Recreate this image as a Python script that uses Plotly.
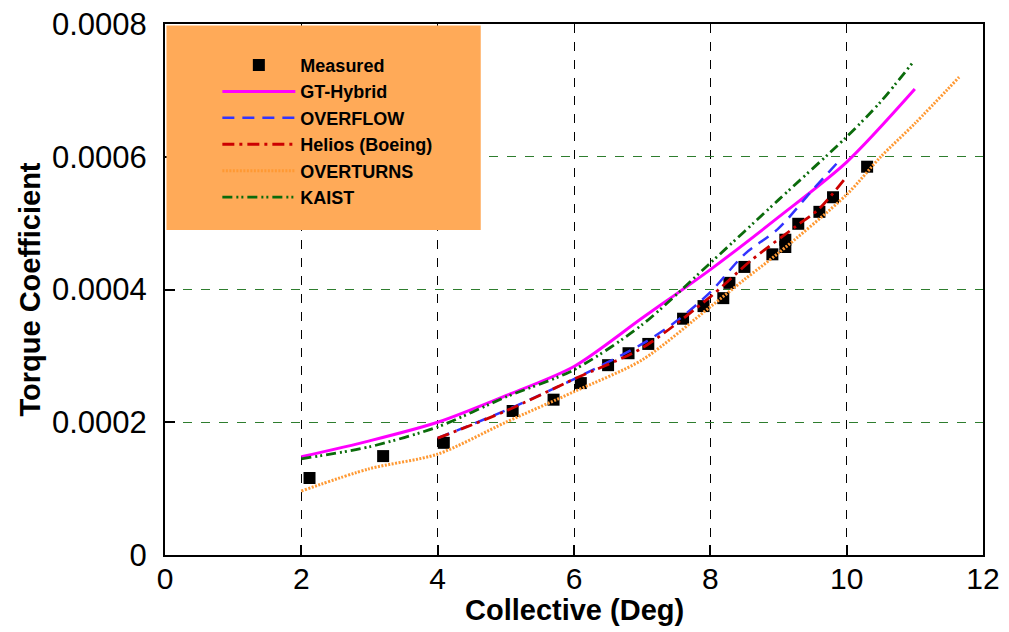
import plotly.graph_objects as go

# ---------------- data ----------------
meas_x = [2.12, 3.2, 4.09, 5.1, 5.7, 6.1, 6.5, 6.8, 7.09, 7.6, 7.9, 8.19, 8.28, 8.5,
          8.91, 9.1, 9.1, 9.29, 9.6, 9.8, 10.3]
meas_y = [0.000116, 0.000149, 0.000169, 0.000217, 0.000234, 0.000259, 0.000286,
          0.000304, 0.000318, 0.000356, 0.000375, 0.000387, 0.000410, 0.000434,
          0.000453, 0.000464, 0.000475, 0.000499, 0.000517, 0.000539, 0.000585]

gt_x = [2, 3, 4, 5, 6, 7, 8, 9, 10, 11]
gt_y = [0.000148, 0.000172, 0.000200, 0.000240, 0.000284, 0.000357, 0.000430,
        0.000509, 0.000592, 0.000702]

ovf_x = [4.0, 5, 6, 7, 7.5, 8, 8.5, 9, 9.5, 9.9]
ovf_y = [0.000176, 0.000218, 0.000265, 0.000318, 0.000352, 0.000396, 0.000453,
         0.000492, 0.000550, 0.000595]

hel_x = [4.0, 5, 6, 7, 8, 8.6, 9.24, 9.6, 10]
hel_y = [0.000176, 0.000217, 0.000265, 0.000312, 0.000389, 0.000444, 0.000494,
         0.000522, 0.000570]

ovt_x = [2, 3, 4, 5, 6, 7, 8, 8.5, 9, 10, 10.5, 11, 11.65]
ovt_y = [0.0000964, 0.000130, 0.000152, 0.000200, 0.000246, 0.000294, 0.000374,
         0.000415, 0.000455, 0.000543, 0.000600, 0.000650, 0.000720]

kai_x = [2, 3, 4, 5, 6, 7, 8, 9, 10, 10.5, 10.97]
kai_y = [0.000145, 0.000163, 0.000193, 0.000238, 0.000279, 0.000347, 0.000440,
         0.000535, 0.000630, 0.000683, 0.000742]

x_ticks = [0, 2, 4, 6, 8, 10, 12]
y_ticks = [0, 0.0002, 0.0004, 0.0006, 0.0008]
y_tick_text = ["0", "0.0002", "0.0004", "0.0006", "0.0008"]

FONT = "Liberation Sans, Arial, sans-serif"

fig = go.Figure()

fig.add_trace(go.Scatter(x=meas_x, y=meas_y, mode="markers", name="Measured",
                         marker=dict(symbol="square", size=12, color="black")))
fig.add_trace(go.Scatter(x=gt_x, y=gt_y, mode="lines", name="GT-Hybrid",
                         line=dict(color="#FF00FF", width=3, shape="spline", smoothing=0.8)))
fig.add_trace(go.Scatter(x=ovf_x, y=ovf_y, mode="lines", name="OVERFLOW",
                         line=dict(color="#3333FF", width=2.5, dash="12px,8px",
                                   shape="spline", smoothing=0.8)))
fig.add_trace(go.Scatter(x=hel_x, y=hel_y, mode="lines", name="Helios (Boeing)",
                         line=dict(color="#CC0000", width=2.8, dash="12px,5px,3px,5px",
                                   shape="spline", smoothing=0.8)))
fig.add_trace(go.Scatter(x=ovt_x, y=ovt_y, mode="lines", name="OVERTURNS",
                         line=dict(color="#FF9933", width=3, dash="2px,1.5px",
                                   shape="spline", smoothing=0.8)))
fig.add_trace(go.Scatter(x=kai_x, y=kai_y, mode="lines", name="KAIST",
                         line=dict(color="#0B6B0B", width=2.8, dash="10px,4px,2px,3px,2px,4px",
                                   shape="spline", smoothing=0.8)))

# orange legend panel
fig.add_shape(type="rect", xref="paper", yref="paper",
              x0=0.0018, x1=0.386, y0=0.612, y1=0.997,
              fillcolor="#FFAA58", line=dict(width=0), layer="above")

# x-axis title as annotation
fig.add_annotation(text="<b>Collective (Deg)</b>", xref="paper", yref="paper",
                   x=0.5, y=-0.104, xanchor="center", yanchor="middle", showarrow=False,
                   font=dict(family=FONT, size=29, color="black"))

fig.update_layout(
    width=1009, height=632,
    margin=dict(l=157, r=34, t=16, b=85),
    paper_bgcolor="white", plot_bgcolor="white",
    font=dict(family=FONT, color="black"),
    showlegend=True,
    legend=dict(x=0.064, y=0.957, xanchor="left", yanchor="top",
                bgcolor="rgba(0,0,0,0)", borderwidth=0, itemwidth=73,
                font=dict(family=FONT, size=18, weight="bold", color="black"),
                tracegroupgap=0),
    xaxis=dict(range=[0, 12], tickvals=x_ticks, ticks="inside", ticklen=10,
               tickwidth=1.5, tickcolor="black", automargin=False,
               ticklabeloverflow="allow", ticklabelstandoff=-4,
               showline=True, linecolor="black", linewidth=2, mirror=True,
               showgrid=True, gridcolor="black", griddash="9px,9px", gridwidth=1.3,
               zeroline=False,
               tickfont=dict(family=FONT, size=30)),
    yaxis=dict(range=[0, 0.0008], tickvals=y_ticks, ticktext=y_tick_text,
               ticks="inside", ticklen=10, tickwidth=1.5, tickcolor="black",
               automargin=False, ticklabeloverflow="allow",
               showline=True, linecolor="black", linewidth=2, mirror=True,
               showgrid=True, gridcolor="#2E7D2E", griddash="9px,9px", gridwidth=1.3,
               zeroline=False, ticklabelstandoff=10,
               tickfont=dict(family=FONT, size=31),
               title=dict(text="<b>Torque Coefficient</b>", font=dict(family=FONT, size=29),
                          standoff=3)),
)

fig.write_html("out.html")
